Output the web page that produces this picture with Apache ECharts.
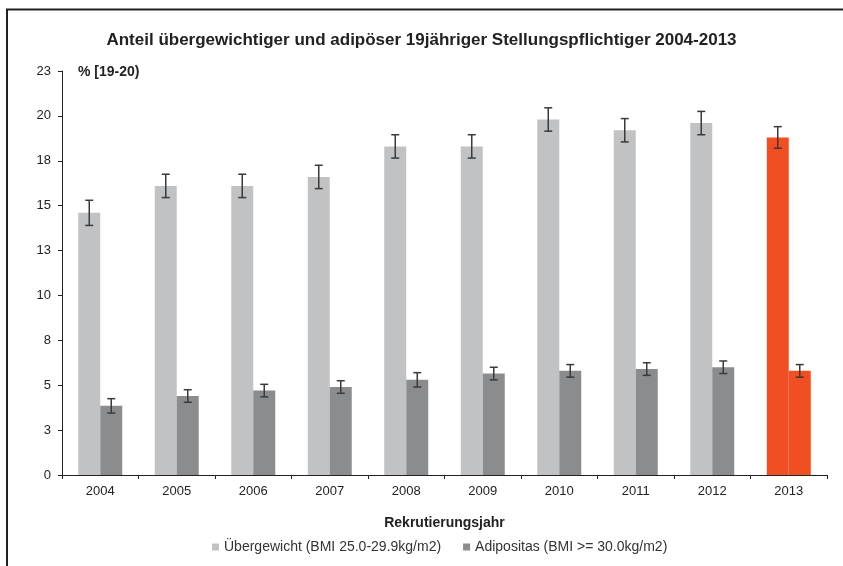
<!DOCTYPE html>
<html>
<head>
<meta charset="utf-8">
<script src="https://cdn.jsdelivr.net/npm/echarts@6/dist/echarts.min.js"></script>
<style>
html, body { margin: 0; padding: 0; background: #fff; }
#main { width: 843px; height: 566px; }
</style>
</head>
<body>
<div id="main"></div>
<script>
// Daten
const years = ['2004', '2005', '2006', '2007', '2008', '2009', '2010', '2011', '2012', '2013'];
const uebergewicht = [14.6, 16.1, 16.1, 16.6, 18.3, 18.3, 19.8, 19.2, 19.6, 18.8];
const uebergewichtErr = [0.7, 0.65, 0.65, 0.65, 0.65, 0.65, 0.65, 0.65, 0.65, 0.6];
const adipositas = [3.85, 4.4, 4.7, 4.9, 5.3, 5.65, 5.8, 5.9, 6.0, 5.8];
const adipositasErr = [0.4, 0.35, 0.35, 0.35, 0.4, 0.35, 0.35, 0.35, 0.35, 0.35];
const yTicks = [0, 2.5, 5, 7.5, 10, 12.5, 15, 17.5, 20, 22.5];

const font = 'Liberation Sans, Arial, sans-serif';
const colLight = '#c1c2c4';
const colDark = '#8b8c8e';
const colHigh = '#f04e23';
const barW = 22;

let myChart = echarts.init(document.getElementById('main'));

function barData(vals, col) {
    return vals.map(function (v, i) {
        if (i === vals.length - 1) return {value: v, itemStyle: {color: colHigh}};
        return {value: v, itemStyle: {color: col}};
    });
}

function errSeries(vals, errs, shift) {
    return {
        type: 'custom',
        silent: true,
        z: 10,
        data: vals.map(function (v, i) { return [i, v - errs[i], v + errs[i]]; }),
        renderItem: function (params, api) {
            let lo = api.coord([api.value(0), api.value(1)]);
            let hi = api.coord([api.value(0), api.value(2)]);
            let x = lo[0] + shift;
            let cap = 4;
            let st = {stroke: '#3a3a3a', lineWidth: 1.5};
            return {
                type: 'group',
                children: [
                    {type: 'line', shape: {x1: x, y1: lo[1], x2: x, y2: hi[1]}, style: st},
                    {type: 'line', shape: {x1: x - cap, y1: lo[1], x2: x + cap, y2: lo[1]}, style: st},
                    {type: 'line', shape: {x1: x - cap, y1: hi[1], x2: x + cap, y2: hi[1]}, style: st}
                ]
            };
        }
    };
}

option = {
    backgroundColor: '#fff',
    animation: false,
    textStyle: {fontFamily: font},
    title: {
        text: 'Anteil übergewichtiger und adipöser 19jähriger Stellungspflichtiger 2004-2013',
        left: 'center',
        top: 27,
        textStyle: {fontSize: 17, fontWeight: 'bold', color: '#222', fontFamily: font}
    },
    legend: {
        data: ['Übergewicht (BMI 25.0-29.9kg/m2)', 'Adipositas (BMI >= 30.0kg/m2)'],
        bottom: 7,
        left: 207,
        itemWidth: 7,
        itemHeight: 7,
        itemGap: 22,
        icon: 'rect',
        textStyle: {fontSize: 14, color: '#333', fontFamily: font}
    },
    grid: {left: 62, right: 16, top: 71, bottom: 91},
    xAxis: {
        type: 'category',
        data: years,
        name: 'Rekrutierungsjahr',
        nameLocation: 'middle',
        nameGap: 41,
        nameTextStyle: {fontSize: 14, fontWeight: 'bold', color: '#222'},
        axisLine: {lineStyle: {color: '#222', width: 1}},
        axisTick: {show: true, length: 4, lineStyle: {color: '#222'}},
        axisLabel: {fontSize: 13, color: '#222', margin: 10}
    },
    yAxis: {
        type: 'value',
        min: 0,
        max: 22.5,
        interval: 2.5,
        splitLine: {show: false},
        axisLine: {show: true, lineStyle: {color: '#222', width: 1}},
        axisTick: {show: true, length: 4, lineStyle: {color: '#222'}},
        axisLabel: {
            fontSize: 13, color: '#222', margin: 11,
            formatter: function (v) { return Math.round(v); }
        }
    },
    graphic: [
        {
            type: 'polyline',
            shape: {points: [[7, 566], [7, 9.5], [843, 9.5]]},
            style: {stroke: '#222', lineWidth: 2, fill: null}
        },
        {
            type: 'text',
            left: 78,
            top: 65,
            style: {text: '% [19-20)', fontSize: 14, fontWeight: 'bold', fill: '#222', fontFamily: font}
        }
    ],
    series: [
        {
            name: 'Übergewicht (BMI 25.0-29.9kg/m2)',
            type: 'bar',
            barWidth: barW,
            barGap: '0%',
            itemStyle: {color: colLight},
            data: barData(uebergewicht, colLight)
        },
        {
            name: 'Adipositas (BMI >= 30.0kg/m2)',
            type: 'bar',
            barWidth: barW,
            barGap: '0%',
            itemStyle: {color: colDark},
            data: barData(adipositas, colDark)
        },
        errSeries(uebergewicht, uebergewichtErr, -barW / 2),
        errSeries(adipositas, adipositasErr, barW / 2)
    ]
};

myChart.setOption(option);
</script>
</body>
</html>
